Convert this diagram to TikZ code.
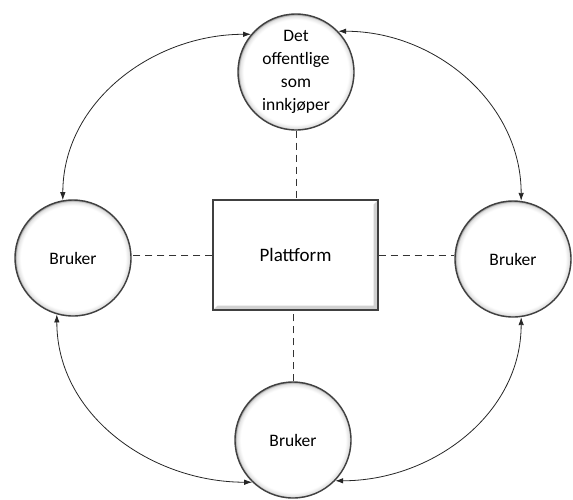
\documentclass[tikz,border=0pt]{standalone}
\usepackage{fontspec}
\setmainfont{Carlito}
\usetikzlibrary{arrows.meta}
\colorlet{rimlight}{black!12}
\colorlet{rimdark}{black!45}
\pgfdeclareradialshading{rim}{\pgfpoint{0bp}{0bp}}{color(0bp)=(white); color(22.6bp)=(white); color(24.3bp)=(rimlight); color(25bp)=(rimdark); color(50bp)=(rimdark)}
\tikzstyle{actor}=[circle, draw=black!75, line width=1.4pt, shading=rim, minimum size=116pt, inner sep=0pt, align=center, font=\fontsize{17.5}{23}\selectfont]
\tikzstyle{hub}=[rectangle, draw=black!75, line width=1.4pt, fill=white, minimum width=165pt, minimum height=110pt, font=\fontsize{19}{23}\selectfont,
  path picture={\fill[black!18] (path picture bounding box.north east) -- (path picture bounding box.south east) -- (path picture bounding box.south west)
    -- ([shift={(4.5pt,4.5pt)}]path picture bounding box.south west) -- ([shift={(-4.5pt,4.5pt)}]path picture bounding box.south east)
    -- ([shift={(-4.5pt,-4.5pt)}]path picture bounding box.north east) -- cycle;}]
\tikzstyle{link}=[black!80, line width=0.9pt, dash pattern=on 7pt off 5pt]
\tikzstyle{flow}=[black!85, line width=0.8pt, {Latex[length=8pt,width=5.5pt]}-{Latex[length=8pt,width=5.5pt]}]

\begin{document}
\begin{tikzpicture}[x=1pt, y=-1pt]
  \useasboundingbox (0,0) rectangle (573,499);

  \node[hub] (hub) at (295.5,255) {Plattform};
  \node[actor] (buyer) at (296,72) {Det\\offentlige\\som\\innkjøper};
  \node[actor] (west) at (73,258) {Bruker};
  \node[actor] (east) at (513,259) {Bruker};
  \node[actor] (south) at (293,440) {Bruker};

  % stiplede koblinger til plattformen
  \draw[link] (buyer.south) -- (buyer.south |- hub.north);
  \draw[link] (south.north) -- (south.north |- hub.south);
  \draw[link] (hub.west) -- (hub.west -| west.east);
  \draw[link] (hub.east) -- (hub.east -| east.west);

  % buer mellom aktorene
  \foreach \a/\b/\o/\i in {buyer.140/west.100/180/90, buyer.44/east.82/0/90,
                           west.254/south.226/-90/180, east.278/south.316/-90/0}{
    \draw[flow] (\a) to[out=\o,in=\i] (\b);
  }
\end{tikzpicture}
\end{document}
